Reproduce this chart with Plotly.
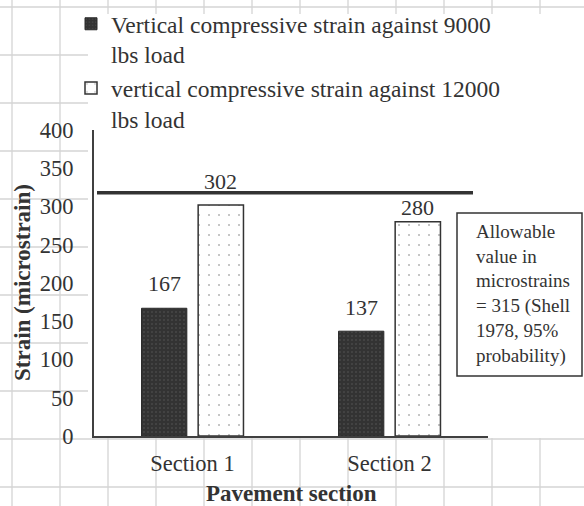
import plotly.graph_objects as go

# ---------------- data ----------------
categories = ["Section 1", "Section 2"]
strain_9000 = [167, 137]
strain_12000 = [302, 280]
series_names = [
    "Vertical compressive strain against 9000<br>lbs load",
    "vertical compressive strain against 12000<br>lbs load",
]
allowable_line_value = 318   # level of the drawn "allowable" line as read on the axis
y_tick_values = [0, 50, 100, 150, 200, 250, 300, 350, 400]
note_text = "Allowable<br>value in<br>microstrains<br>= 315 (Shell<br>1978, 95%<br>probability)"
x_title = "Pavement section"
y_title = "Strain (microstrain)"

# ---------------- geometry / style ----------------
W, H = 584, 506
L, R, T, B = 94, 96, 130, 70
PW, PH = W - L - R, H - T - B
FONT = "Liberation Serif, Times New Roman, serif"
TXT = "#333333"


def px_x(p):
    return (p - L) / PW


def px_y(p):
    return (H - B - p) / PH


fig = go.Figure()

fig.add_trace(go.Bar(
    x=categories, y=strain_9000, name=series_names[0],
    marker=dict(color="#333333", line=dict(color="#2b2b2b", width=1),
                pattern=dict(shape=".", fgcolor="#7a7a7a", bgcolor="#333333",
                             size=4, solidity=0.12)),
))
fig.add_trace(go.Bar(
    x=categories, y=strain_12000, name=series_names[1],
    marker=dict(color="white", line=dict(color="#333333", width=1.5),
                pattern=dict(shape=".", fgcolor="#555555", bgcolor="white",
                             size=10, solidity=0.025)),
))

shapes = []
# spreadsheet cell grid in the background
for gx in range(12, W, 48):
    shapes.append(dict(type="line", xref="paper", yref="paper", layer="below",
                       x0=px_x(gx), x1=px_x(gx), y0=px_y(0), y1=px_y(H),
                       line=dict(color="#d4d4d4", width=1.3)))
for gy in range(7, H, 48):
    shapes.append(dict(type="line", xref="paper", yref="paper", layer="below",
                       x0=px_x(0), x1=px_x(W), y0=px_y(gy), y1=px_y(gy),
                       line=dict(color="#d4d4d4", width=1.3)))
# white chart area
shapes.append(dict(type="rect", xref="paper", yref="paper", layer="below",
                   x0=px_x(88), x1=px_x(W + 5), y0=px_y(14), y1=px_y(438),
                   fillcolor="white", line=dict(width=0)))
# allowable line
shapes.append(dict(type="line", xref="paper", yref="y",
                   x0=px_x(97), x1=px_x(473),
                   y0=allowable_line_value, y1=allowable_line_value,
                   line=dict(color="#333333", width=3.5)))
# note box
shapes.append(dict(type="rect", xref="paper", yref="paper",
                   x0=px_x(457), x1=px_x(582), y0=px_y(213), y1=px_y(376),
                   fillcolor="white", line=dict(color="#333333", width=1.5)))

annotations = []
label_offsets = [(-28, [25, 23.5]), (28, [23, 14.5])]
for vals, (xs, ys) in zip([strain_9000, strain_12000], label_offsets):
    for i, (c, v) in enumerate(zip(categories, vals)):
        annotations.append(dict(x=c, y=v, xref="x", yref="y", text=str(v),
                                showarrow=False, xshift=xs, yshift=ys[i],
                                xanchor="center", yanchor="middle",
                                font=dict(family=FONT, size=22, color=TXT)))
annotations.append(dict(x=px_x(474), y=px_y(294), xref="paper", yref="paper",
                        xanchor="left", yanchor="middle", align="left",
                        text=note_text, showarrow=False,
                        font=dict(family=FONT, size=19, color=TXT)))
annotations.append(dict(x=px_x(291), y=px_y(493), xref="paper", yref="paper",
                        xanchor="center", yanchor="middle",
                        text="<b>" + x_title + "</b>", showarrow=False,
                        font=dict(family=FONT, size=23, color=TXT)))
annotations.append(dict(x=px_x(22), y=px_y(283), xref="paper", yref="paper",
                        xanchor="center", yanchor="middle",
                        text="<b>" + y_title + "</b>", showarrow=False, textangle=-90,
                        font=dict(family=FONT, size=23, color=TXT)))

fig.update_layout(
    width=W, height=H,
    margin=dict(l=L, r=R, t=T, b=B, autoexpand=False),
    paper_bgcolor="white", plot_bgcolor="white",
    barmode="group", bargap=0.425, bargroupgap=0.2,
    font=dict(family=FONT, color=TXT),
    shapes=shapes, annotations=annotations,
    showlegend=True,
    legend=dict(x=px_x(71), y=px_y(2), xanchor="left", yanchor="top",
                valign="top", bgcolor="rgba(0,0,0,0)", tracegroupgap=0,
                itemwidth=30,
                font=dict(family=FONT, size=23.5, color=TXT)),
    xaxis=dict(showline=True, linecolor="#404040", linewidth=2,
               showgrid=False, ticks="", ticklabelstandoff=6,
               tickfont=dict(family=FONT, size=22.5, color=TXT)),
    yaxis=dict(range=[0, 400], tickvals=y_tick_values, showline=True,
               linecolor="#404040", linewidth=2, showgrid=False, zeroline=False,
               ticks="", ticklabelstandoff=14,
               tickfont=dict(family=FONT, size=22.5, color=TXT)),
)

fig.write_html("out.html", config={"displayModeBar": False},
               post_script="document.body.style.margin='0';document.body.style.overflow='hidden';")
